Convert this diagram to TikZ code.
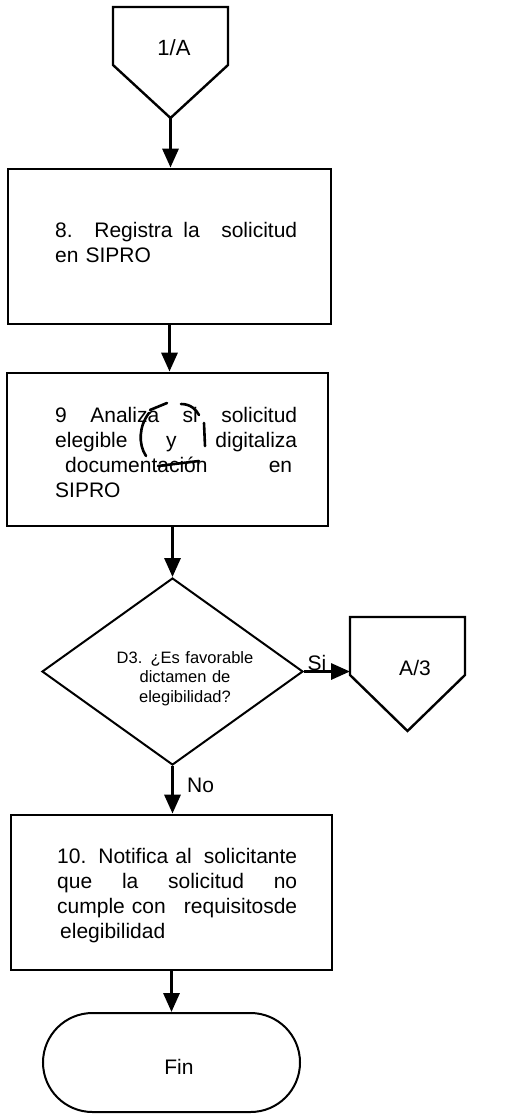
\documentclass[tikz,border=0pt]{standalone}
\usepackage{fontspec}
\setmainfont{Liberation Sans}
\usetikzlibrary{shapes.geometric,shapes.misc,arrows.meta,calc}
\newcommand\jfull[2]{\leavevmode\hbox to #1{#2}}
\begin{document}
\begin{tikzpicture}[x=1pt,y=-1pt,
  flow/.style={line width=3.2pt,-{Triangle[length=19pt,width=16pt]}},
  procbox/.style={draw,line width=2.8pt,inner sep=0pt},
  conn/.style={line width=2.4pt,line join=miter},
  ghost/.style={inner sep=0pt,outer sep=0pt},
  lbl/.style={inner sep=0pt,font=\fontsize{21}{24}\selectfont},
  boxtext/.style={inner sep=0pt,align=left,font=\fontsize{21}{25}\selectfont},
  scrib/.style={line width=2.6pt,line cap=round}
]
\useasboundingbox (0,0) rectangle (513,1114);

% off-page connector 1/A
\node[ghost,minimum width=115pt,minimum height=58pt] (c1) at (170.5,36) {};
\coordinate (c1tip) at (170.5,118);
\draw[conn] (c1.north west) -- (c1.north east) -- (c1.south east) -- (c1tip) -- (c1.south west) -- cycle;
\node[lbl,font=\fontsize{22}{24}\selectfont] (t1) at (174,48) {1/A};

% box 8
\node[procbox,minimum width=323pt,minimum height=155pt] (b1) at (169.5,246.5) {};
\node[boxtext,text width=242pt,anchor=base west] (t8) at (55,237)
  {\jfull{242pt}{8.\hfill\hfill Registra\hfill la\hfill\hfill solicitud}\\en SIPRO};

% box 9
\node[procbox,minimum width=321pt,minimum height=153pt] (b2) at (167.5,449.5) {};
\node[boxtext,text width=242pt,anchor=base west] (t9) at (55,422)
  {\jfull{242pt}{9\hfill Analiza\hfill si\hfill solicitud}\\
   \jfull{242pt}{elegible\hfill y\hfill digitaliza}\\
   \jfull{242pt}{\hspace{10pt}documentación\hfill en\hspace{5pt}}\\
   SIPRO};
% hand-drawn marks round "y"
\draw[scrib] (149,413) .. controls (139,426) and (138,444) .. (146,456);
\draw[scrib] (150,410) -- (167,403);
\draw[scrib] (181,404) .. controls (190,404) and (196,409) .. (199,415);
\draw[scrib] (204,423) -- (205,446);
\draw[scrib] (158,466) -- (199,461);

% decision D3
\node[draw,diamond,line width=2pt,inner sep=0pt,minimum width=261pt,minimum height=187pt] (d) at (172.5,671.5) {};
\node[inner sep=0pt,text width=170pt,align=center,anchor=base,font=\fontsize{16.5}{19.5}\selectfont] (td) at (185,663)
  {D3. ¿Es favorable\\dictamen de\\elegibilidad?};

% off-page connector A/3
\node[ghost,minimum width=115pt,minimum height=58pt] (c2) at (407.5,646) {};
\coordinate (c2tip) at (407.5,731);
\draw[conn] (c2.north west) -- (c2.north east) -- (c2.south east) -- (c2tip) -- (c2.south west) -- cycle;
\node[lbl] (t2) at (415,668) {A/3};

% box 10
\node[procbox,minimum width=321pt,minimum height=155pt] (b3) at (171.5,892.5) {};
\node[boxtext,text width=240pt,anchor=base west] (t10) at (57,863)
  {\jfull{240pt}{10.\hfill Notifica al\hfill solicitante}\\
   \jfull{240pt}{que\hfill la\hfill solicitud\hfill no}\\
   \jfull{240pt}{cumple con\hfill requisitosde}\\
   \hspace{3pt}elegibilidad};

% terminator Fin
\node[draw,rounded rectangle,line width=2pt,inner sep=0pt,minimum width=257pt,minimum height=99pt] (fin) at (171.5,1062.5) {};
\node[lbl] (tfin) at (179,1067) {Fin};

% connectors
\draw[flow] (c1tip) -- (c1tip |- b1.north);
\draw[flow] (b1.south) -- (b1.south |- b2.north);
\draw[flow] (d.north |- b2.south) -- (d.north);
\draw[flow] (d.east) -- (d.east -| c2.west);
\node[lbl,anchor=base] (si) at (317,670) {Si};
\draw[flow] (d.south) -- (d.south |- b3.north);
\node[lbl,anchor=base west] (no) at (187,792) {No};
\draw[flow] (fin.north |- b3.south) -- (fin.north);
\end{tikzpicture}
\end{document}
